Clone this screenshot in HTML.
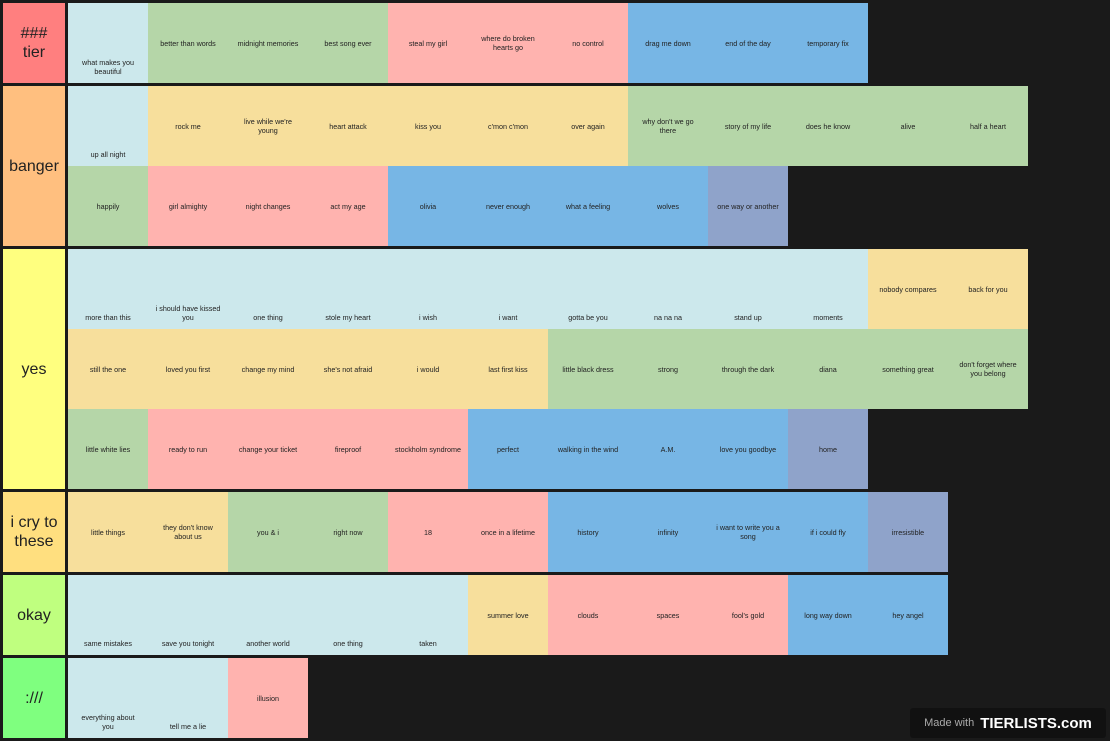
<!DOCTYPE html>
<html><head><meta charset="utf-8"><style>
html,body{margin:0;padding:0;background:#1a1a1a;width:1110px;height:741px;overflow:hidden;font-family:"Liberation Sans",sans-serif}
.tier{position:absolute;left:3px;width:1105px}
.label{position:absolute;left:0;top:0;bottom:0;width:62px;display:flex;align-items:center;justify-content:center;text-align:center;font-size:16px;color:#222;line-height:19px}
.items{position:absolute;left:65px;top:0;width:960px;display:flex;flex-wrap:wrap}
.it{width:80px;height:80px;display:flex;align-items:center;justify-content:center;text-align:center;font-size:7.2px;line-height:9px;color:#222;box-sizing:border-box;padding:0 7px}
.L{background:#cce8ec;align-items:flex-end;padding-bottom:7px}
.G{background:#b5d6a8}.P{background:#ffb3af}.Y{background:#f7df9c}.B{background:#77b6e5}.S{background:#8fa3ca}
#wm{position:absolute;left:910px;top:708px;width:196px;height:30px;background:#111;border-radius:3px;display:flex;align-items:center;justify-content:center;gap:6px}
</style></head><body>
<div id="root"></div>
<div id="wm"><span style="color:#aaa;font-size:11px">Made with</span><span style="color:#fff;font-size:15px;font-weight:bold">TIERLISTS.com</span></div>
<script>
const tiers=[
{name:"###<br>tier",color:"#ff7f7f",top:3,h:80,items:"L:what makes you beautiful|G:better than words|G:midnight memories|G:best song ever|P:steal my girl|P:where do broken hearts go|P:no control|B:drag me down|B:end of the day|B:temporary fix"},
{name:"banger",color:"#ffbf7f",top:86,h:160,items:"L:up all night|Y:rock me|Y:live while we're young|Y:heart attack|Y:kiss you|Y:c'mon c'mon|Y:over again|G:why don't we go there|G:story of my life|G:does he know|G:alive|G:half a heart|G:happily|P:girl almighty|P:night changes|P:act my age|B:olivia|B:never enough|B:what a feeling|B:wolves|S:one way or another"},
{name:"yes",color:"#ffff7f",top:249,h:240,items:"L:more than this|L:i should have kissed you|L:one thing|L:stole my heart|L:i wish|L:i want|L:gotta be you|L:na na na|L:stand up|L:moments|Y:nobody compares|Y:back for you|Y:still the one|Y:loved you first|Y:change my mind|Y:she's not afraid|Y:i would|Y:last first kiss|G:little black dress|G:strong|G:through the dark|G:diana|G:something great|G:don't forget where you belong|G:little white lies|P:ready to run|P:change your ticket|P:fireproof|P:stockholm syndrome|B:perfect|B:walking in the wind|B:A.M.|B:love you goodbye|S:home"},
{name:"i cry to<br>these",color:"#ffdf7f",top:492,h:80,items:"Y:little things|Y:they don't know about us|G:you &amp; i|G:right now|P:18|P:once in a lifetime|B:history|B:infinity|B:i want to write you a song|B:if i could fly|S:irresistible"},
{name:"okay",color:"#bfff7f",top:575,h:80,items:"L:same mistakes|L:save you tonight|L:another world|L:one thing|L:taken|Y:summer love|P:clouds|P:spaces|P:fool's gold|B:long way down|B:hey angel"},
{name:":///",color:"#7fff7f",top:658,h:80,items:"L:everything about you|L:tell me a lie|P:illusion"}
];
const root=document.getElementById('root');
tiers.forEach(t=>{
  const d=document.createElement('div');d.className='tier';d.style.top=t.top+'px';d.style.height=t.h+'px';
  
  
  const l=document.createElement('div');l.className='label';l.style.background=t.color;l.innerHTML=t.name;
  
  
  d.appendChild(l);
  const c=document.createElement('div');c.className='items';
  
  
  t.items.split('|').forEach(s=>{
    const [k,txt]=s.split(':');
    const e=document.createElement('div');e.className='it '+k;
    const sp=document.createElement('span');sp.innerHTML=txt;e.appendChild(sp);
    
    
    c.appendChild(e);
  });
  d.appendChild(c);root.appendChild(d);
});
</script>
</body></html>
